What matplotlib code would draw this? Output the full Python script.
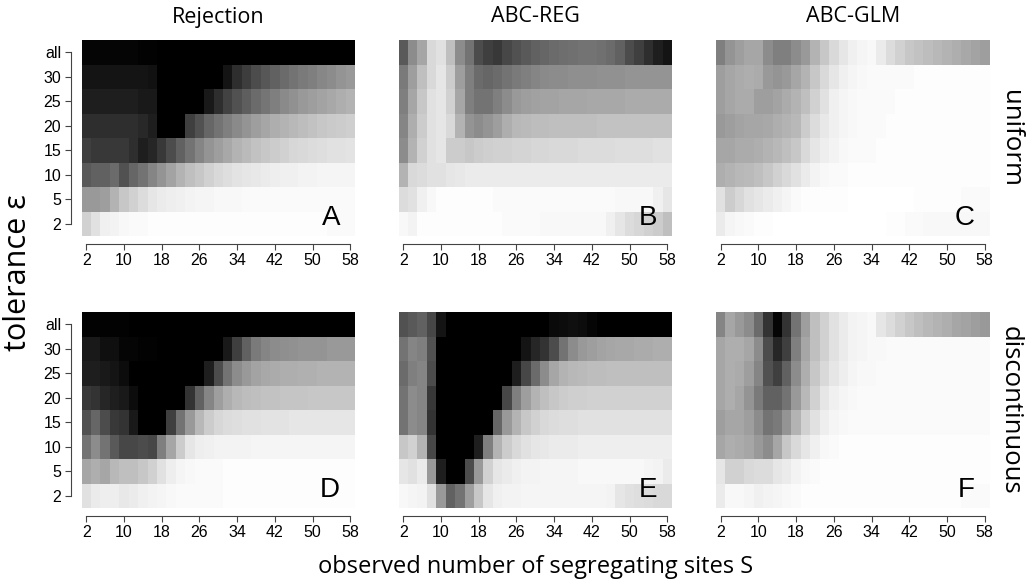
import matplotlib
matplotlib.use("Agg")
import matplotlib.pyplot as plt
import numpy as np

# observed S (columns) and tolerance levels (rows, listed top to bottom)
s_values = np.arange(2, 59, 2)
eps_labels = ["all", "30", "25", "20", "15", "10", "5", "2"]
s_ticks = [2, 10, 18, 26, 34, 42, 50, 58]

col_titles = ["Rejection", "ABC-REG", "ABC-GLM"]
row_titles = ["uniform", "discontinuous"]
panel_letters = ["A", "B", "C", "D", "E", "F"]

# darkness of each cell, 0 = white, 100 = black (rows top to bottom: all .. 2)
rej_uniform = [
    [98, 98, 98, 98, 98, 98, 99, 99, 100, 100, 100, 100, 100, 100, 100, 100, 100, 100, 100, 100, 100, 100, 100, 100, 100, 100, 100, 100, 100],
    [92, 92, 92, 92, 92, 92, 92, 93, 100, 100, 100, 100, 100, 100, 100, 92, 82, 76, 70, 66, 62, 58, 55, 52, 50, 47, 45, 42, 40],
    [88, 88, 88, 88, 88, 88, 90, 90, 100, 100, 100, 100, 100, 90, 82, 74, 68, 63, 58, 54, 50, 46, 43, 40, 38, 36, 34, 32, 30],
    [82, 82, 82, 82, 82, 82, 84, 88, 100, 100, 100, 75, 68, 60, 55, 50, 46, 42, 38, 35, 32, 30, 28, 26, 24, 22, 21, 20, 19],
    [75, 78, 78, 78, 78, 82, 88, 85, 78, 70, 62, 55, 48, 42, 38, 34, 30, 27, 24, 22, 20, 18, 16, 15, 14, 13, 12, 12, 11],
    [65, 62, 62, 58, 68, 60, 55, 48, 42, 36, 30, 25, 22, 18, 15, 13, 11, 10, 9, 8, 7, 6, 6, 5, 5, 4, 4, 4, 4],
    [40, 40, 38, 30, 22, 18, 14, 10, 8, 7, 6, 5, 4, 4, 3, 3, 3, 2, 2, 2, 2, 2, 2, 2, 2, 2, 2, 2, 2],
    [18, 12, 6, 5, 3, 2, 2, 1, 1, 1, 1, 1, 1, 1, 1, 1, 1, 1, 1, 1, 1, 1, 1, 1, 1, 1, 2, 2, 2],
]
reg_uniform = [
    [65, 45, 35, 15, 12, 25, 45, 55, 70, 75, 78, 72, 68, 65, 62, 60, 58, 57, 56, 55, 55, 56, 58, 62, 70, 75, 82, 88, 92],
    [52, 38, 25, 15, 10, 20, 38, 50, 58, 60, 58, 55, 52, 50, 48, 46, 45, 45, 44, 44, 44, 43, 43, 43, 42, 42, 42, 42, 42],
    [50, 35, 22, 12, 10, 18, 35, 50, 55, 55, 50, 45, 40, 38, 37, 36, 36, 35, 35, 35, 34, 34, 34, 34, 33, 33, 33, 33, 33],
    [48, 32, 20, 12, 10, 15, 30, 42, 45, 42, 38, 32, 28, 27, 26, 26, 25, 25, 25, 25, 25, 24, 24, 24, 24, 24, 24, 24, 24],
    [45, 30, 18, 12, 10, 20, 20, 22, 20, 19, 18, 18, 17, 17, 16, 16, 15, 15, 15, 14, 14, 14, 14, 13, 13, 13, 13, 12, 12],
    [30, 15, 14, 12, 12, 10, 9, 8, 8, 8, 8, 8, 8, 8, 8, 8, 8, 8, 8, 8, 8, 8, 8, 8, 8, 8, 8, 8, 8],
    [14, 12, 6, 3, 1, 1, 1, 1, 1, 1, 2, 2, 2, 2, 2, 2, 2, 2, 2, 2, 2, 2, 2, 3, 3, 3, 3, 6, 10],
    [3, 5, 1, 1, 1, 1, 1, 1, 1, 1, 1, 2, 2, 2, 2, 3, 3, 3, 3, 3, 3, 3, 6, 10, 14, 16, 18, 20, 25],
]
glm_uniform = [
    [50, 42, 38, 35, 35, 45, 50, 50, 45, 40, 30, 22, 15, 10, 6, 4, 3, 8, 14, 18, 22, 24, 26, 28, 30, 32, 34, 36, 38],
    [38, 35, 33, 32, 33, 40, 42, 40, 35, 30, 22, 15, 10, 6, 4, 3, 2, 2, 2, 2, 2, 1, 1, 1, 1, 1, 1, 1, 1],
    [38, 35, 33, 33, 38, 38, 36, 33, 30, 25, 18, 12, 6, 4, 3, 2, 2, 2, 2, 1, 1, 1, 1, 1, 1, 1, 1, 1, 1],
    [40, 38, 36, 35, 35, 34, 32, 30, 28, 20, 14, 9, 6, 4, 3, 2, 2, 2, 1, 1, 1, 1, 1, 1, 1, 1, 1, 1, 1],
    [35, 35, 33, 33, 32, 30, 28, 25, 22, 15, 10, 7, 5, 3, 2, 2, 2, 1, 1, 1, 1, 1, 1, 1, 1, 1, 1, 1, 1],
    [32, 30, 28, 27, 25, 22, 18, 15, 12, 8, 5, 3, 2, 2, 1, 1, 1, 1, 1, 1, 1, 1, 1, 1, 1, 1, 1, 1, 1],
    [12, 20, 16, 12, 10, 8, 6, 4, 2, 1, 1, 1, 1, 1, 0, 0, 0, 0, 0, 0, 0, 1, 1, 1, 1, 1, 2, 2, 2],
    [8, 4, 3, 2, 1, 1, 0, 0, 0, 0, 0, 0, 0, 0, 0, 0, 0, 0, 1, 1, 2, 2, 3, 3, 3, 3, 3, 3, 3],
]
rej_discont = [
    [99, 99, 99, 99, 99, 100, 100, 100, 100, 100, 100, 100, 100, 100, 100, 100, 100, 100, 100, 100, 100, 100, 100, 100, 100, 100, 100, 100, 100],
    [90, 90, 94, 94, 98, 98, 99, 99, 100, 100, 100, 100, 100, 100, 100, 90, 75, 62, 52, 48, 45, 44, 43, 42, 42, 42, 40, 40, 40],
    [88, 88, 90, 92, 95, 100, 100, 100, 100, 100, 100, 100, 100, 88, 70, 55, 45, 40, 36, 34, 33, 32, 32, 31, 31, 30, 30, 30, 30],
    [78, 80, 85, 88, 90, 95, 100, 100, 100, 100, 100, 80, 62, 48, 38, 32, 28, 26, 25, 24, 24, 23, 23, 23, 22, 22, 22, 22, 22],
    [68, 60, 70, 78, 80, 90, 100, 100, 100, 75, 55, 40, 28, 20, 16, 14, 13, 12, 12, 11, 11, 11, 10, 10, 10, 10, 10, 10, 10],
    [55, 45, 55, 65, 72, 72, 70, 72, 50, 35, 20, 10, 7, 6, 5, 5, 5, 5, 4, 4, 4, 4, 4, 4, 4, 4, 4, 4, 4],
    [35, 32, 35, 28, 25, 25, 22, 18, 12, 7, 4, 3, 2, 2, 2, 1, 1, 1, 1, 1, 1, 1, 1, 1, 1, 1, 1, 1, 1],
    [12, 8, 7, 7, 9, 8, 6, 5, 4, 3, 2, 2, 2, 2, 2, 1, 1, 1, 1, 1, 1, 1, 1, 1, 1, 1, 1, 1, 1],
]
reg_discont = [
    [68, 65, 62, 72, 92, 100, 100, 100, 100, 100, 100, 100, 100, 100, 100, 100, 96, 95, 94, 95, 98, 100, 100, 100, 100, 100, 100, 100, 100],
    [55, 48, 50, 68, 100, 100, 100, 100, 100, 100, 100, 100, 100, 92, 85, 80, 70, 55, 45, 40, 38, 36, 35, 34, 34, 33, 33, 32, 32],
    [58, 50, 48, 70, 100, 100, 100, 100, 100, 100, 100, 100, 88, 72, 58, 45, 35, 30, 28, 27, 26, 26, 25, 25, 25, 25, 25, 25, 25],
    [55, 45, 48, 78, 100, 100, 100, 100, 100, 100, 100, 72, 50, 38, 30, 25, 22, 20, 19, 19, 18, 18, 18, 18, 18, 18, 18, 18, 18],
    [55, 45, 48, 80, 100, 100, 100, 100, 100, 100, 60, 40, 30, 22, 18, 15, 14, 13, 13, 12, 12, 12, 12, 12, 12, 12, 12, 12, 12],
    [22, 18, 30, 72, 100, 100, 100, 100, 88, 50, 30, 20, 15, 12, 10, 9, 8, 8, 8, 7, 7, 7, 7, 7, 7, 7, 7, 7, 7],
    [10, 12, 8, 40, 88, 100, 100, 70, 40, 18, 10, 8, 6, 5, 5, 4, 4, 4, 4, 3, 3, 3, 3, 3, 3, 3, 4, 5, 8],
    [3, 4, 5, 12, 40, 62, 55, 38, 22, 10, 6, 5, 5, 4, 4, 4, 4, 4, 4, 4, 4, 4, 5, 10, 12, 13, 14, 15, 15],
]
glm_discont = [
    [48, 35, 40, 45, 58, 80, 98, 80, 55, 38, 25, 18, 12, 8, 5, 4, 3, 10, 14, 18, 22, 25, 28, 30, 32, 35, 36, 38, 40],
    [35, 32, 32, 35, 45, 70, 85, 75, 50, 35, 25, 18, 12, 8, 5, 4, 3, 3, 2, 2, 2, 2, 2, 2, 2, 2, 2, 2, 2],
    [35, 32, 33, 38, 48, 68, 75, 62, 45, 32, 22, 15, 10, 7, 4, 3, 3, 2, 2, 2, 2, 2, 2, 2, 2, 2, 2, 2, 2],
    [35, 32, 35, 42, 52, 62, 62, 55, 40, 28, 18, 10, 6, 4, 3, 2, 2, 2, 2, 2, 2, 2, 2, 2, 2, 2, 2, 2, 2],
    [38, 35, 35, 38, 45, 55, 52, 42, 30, 18, 12, 7, 4, 3, 2, 2, 2, 2, 2, 2, 2, 2, 2, 2, 2, 2, 2, 2, 2],
    [35, 32, 33, 35, 40, 45, 35, 22, 15, 10, 6, 3, 2, 1, 1, 1, 1, 1, 1, 1, 1, 1, 1, 1, 1, 1, 1, 1, 1],
    [10, 18, 18, 15, 14, 14, 10, 8, 5, 3, 2, 1, 1, 1, 1, 1, 1, 1, 1, 1, 1, 1, 1, 1, 1, 1, 1, 1, 1],
    [8, 3, 3, 4, 6, 5, 4, 3, 2, 1, 1, 1, 1, 1, 1, 1, 1, 1, 1, 1, 1, 1, 1, 1, 1, 1, 2, 2, 2],
]

panels = [rej_uniform, reg_uniform, glm_uniform,
          rej_discont, reg_discont, glm_discont]

W, H = 1026, 585
fig = plt.figure(figsize=(W / 100, H / 100), dpi=100)

lefts = [81.5, 398.5, 716]
tops = [40, 312]
pw, ph = 273.5, 196

tick_font = "Liberation Sans"
label_font = "Open Sans"

x_edges = np.append(s_values - 1, s_values[-1] + 1)
y_edges = np.arange(len(eps_labels) + 1)

for k, data in enumerate(panels):
    r, c = divmod(k, 3)
    ax = fig.add_axes([lefts[c] / W, 1 - (tops[r] + ph) / H, pw / W, ph / H])
    z = np.flipud(np.array(data, dtype=float))
    ax.pcolormesh(x_edges, y_edges, z, cmap="gray_r", vmin=0, vmax=100,
                  shading="flat")
    ax.set_xlim(x_edges[0], x_edges[-1])
    ax.set_ylim(0, len(eps_labels))

    for side in ["top", "right"]:
        ax.spines[side].set_visible(False)

    # detached R-style x axis
    ax.spines["bottom"].set_position(("outward", 5.5))
    ax.spines["bottom"].set_bounds(s_ticks[0], s_ticks[-1])
    ax.spines["bottom"].set_color("#444444")
    ax.set_xticks(s_ticks)
    ax.set_xticklabels([str(t) for t in s_ticks], fontsize=11.5,
                       family=tick_font)
    ax.tick_params(axis="x", direction="out", length=4, color="#444444",
                   pad=3)

    if c == 0:
        ax.spines["left"].set_position(("outward", 7.5))
        ax.spines["left"].set_bounds(0.5, len(eps_labels) - 0.5)
        ax.spines["left"].set_color("#444444")
        ax.set_yticks(np.arange(len(eps_labels)) + 0.5)
        ax.set_yticklabels(eps_labels[::-1], fontsize=11.5, family=tick_font)
        ax.tick_params(axis="y", direction="out", length=4, color="#444444",
                       pad=3)
    else:
        ax.spines["left"].set_visible(False)
        ax.set_yticks([])

    ax.text(0.945, 0.055, panel_letters[k], transform=ax.transAxes,
            ha="right", va="baseline", fontsize=20, family=tick_font)

for c, title in enumerate(col_titles):
    fig.text((lefts[c] + pw / 2) / W, 1 - 17 / H, title, ha="center",
             va="center", fontsize=15.5, family=label_font)

for r, title in enumerate(row_titles):
    fig.text(1010 / W, 1 - (tops[r] + ph / 2) / H, title, ha="center",
             va="center", rotation=-90, fontsize=18.5, family=label_font)

fig.text(18 / W, 1 - 273 / H, "tolerance ε", ha="center", va="center",
         rotation=90, fontsize=22, family=label_font)
fig.text((lefts[1] + pw / 2) / W, 1 - 567 / H,
         "observed number of segregating sites S", ha="center", va="center",
         fontsize=17, family=label_font)

fig.savefig("out.png", dpi=100)
